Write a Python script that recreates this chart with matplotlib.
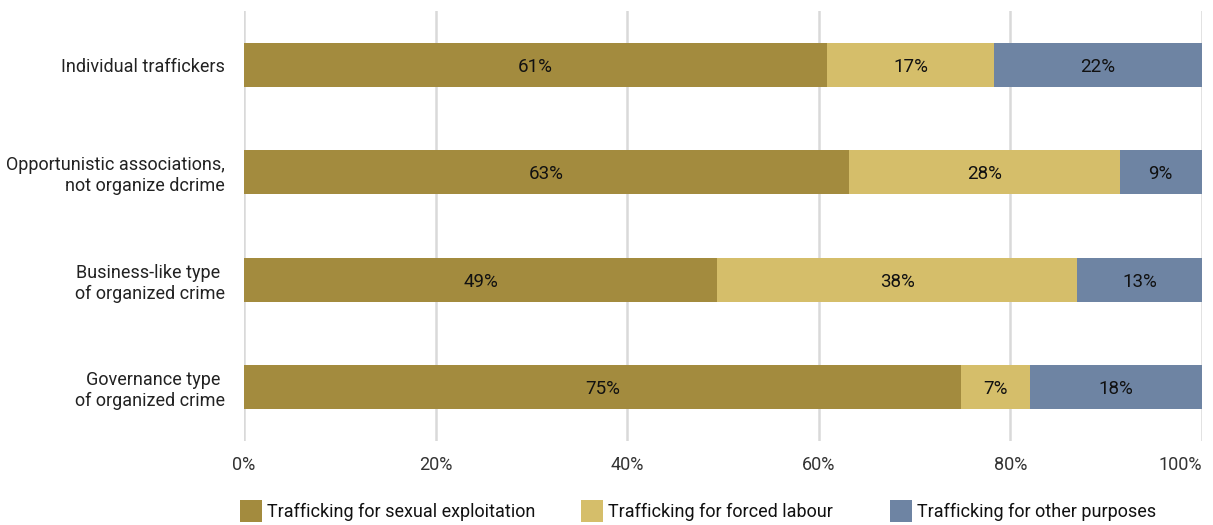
import matplotlib
matplotlib.use("Agg")
import matplotlib.pyplot as plt
from matplotlib.patches import Rectangle
from matplotlib.transforms import ScaledTranslation

categories = ["Individual traffickers",
              "Opportunistic associations,\nnot organize dcrime",
              "Business-like type \nof organized crime",
              "Governance type \nof organized crime"]
sexual = [60.9, 63.2, 49.4, 74.8]
forced = [17.4, 28.2, 37.6, 7.2]
other = [21.7, 8.6, 13.0, 18.0]
series_names = ["Trafficking for sexual exploitation",
                "Trafficking for forced labour",
                "Trafficking for other purposes"]
colors = ["#A38B3E", "#D5BE6A", "#6E84A3"]
xticks = [0, 20, 40, 60, 80, 100]

plt.rcParams['font.family'] = ['Roboto', 'DejaVu Sans']

W, H = 1213, 525
fig = plt.figure(figsize=(W/100, H/100), dpi=100)
ax = fig.add_axes([244/W, 84/H, 958/W, 430/H])

y = list(range(len(categories)))
left = [0]*len(categories)
for vals, col in zip([sexual, forced, other], colors):
    ax.barh(y, vals, left=left, height=0.41, color=col, zorder=3)
    for yi, v, l in zip(y, vals, left):
        ax.text(l + v/2, yi + 0.02, f"{round(v)}%", ha='center', va='center',
                fontsize=13.5, color='#111111', zorder=4)
    left = [a+b for a, b in zip(left, vals)]

ax.set_ylim(3.5, -0.5)
ax.set_xlim(0, 100)
ax.set_xticks(xticks)
ax.set_xticklabels([f"{t}%" for t in xticks], fontsize=13, color='#333333')
lbls = ax.get_xticklabels()
lbls[-1].set_horizontalalignment('right')
lbls[-1].set_transform(lbls[-1].get_transform() + ScaledTranslation(6/100, 0, fig.dpi_scale_trans))
ax.set_yticks(y)
ax.set_yticklabels(categories, fontsize=13, color='#222222')
ax.tick_params(axis='both', length=0)
ax.tick_params(axis='x', pad=11)
ax.tick_params(axis='y', pad=14)
ax.grid(axis='x', color='#D9D9D9', linewidth=1.8, zorder=0)
for s in ax.spines.values():
    s.set_visible(False)

# legend, drawn manually to match reference spacing
leg_x = [240, 581, 890]
for xp, name, col in zip(leg_x, series_names, colors):
    fig.add_artist(Rectangle((xp/W, (H-522)/H), 22/W, 22/H, transform=fig.transFigure,
                             facecolor=col, edgecolor='none'))
    fig.text((xp+27)/W, (H-512)/H, name, ha='left', va='center',
             fontsize=13, color='#111111')

fig.savefig("out.png", dpi=100)
